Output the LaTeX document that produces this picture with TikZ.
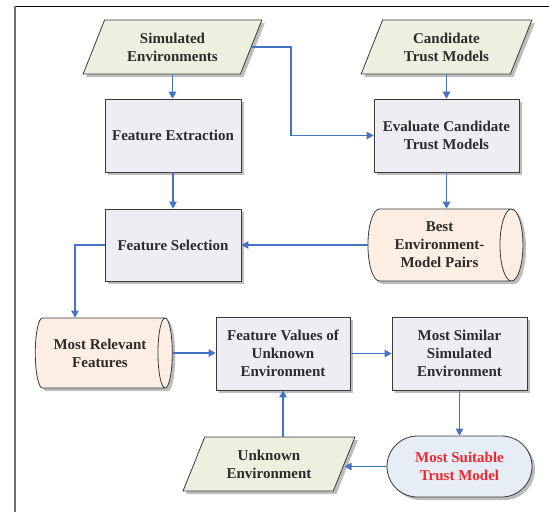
\documentclass[tikz,border=0pt]{standalone}
\usepackage{fontspec}
\setmainfont{Liberation Serif}
\usetikzlibrary{shapes.geometric,shapes.misc,shadows,arrows.meta,calc}
\definecolor{greenf}{HTML}{EBF1DE}
\definecolor{boxf}{HTML}{EEEDF4}
\definecolor{peachf}{HTML}{FCEEE3}
\definecolor{bluef}{HTML}{E6EDF7}
\definecolor{edgec}{HTML}{3A3A3A}
\definecolor{shadc}{HTML}{BDBDBD}
\definecolor{arrc}{HTML}{4472C4}
\definecolor{txtc}{HTML}{2B2B2B}
\definecolor{redt}{HTML}{F0282D}
\tikzset{
  base/.style={draw=edgec, line width=0.8pt, inner sep=0pt, align=center,
    font=\bfseries\fontsize{15}{18}\selectfont, text=txtc,
    drop shadow={shadow xshift=3pt, shadow yshift=-3pt, fill=shadc, opacity=1}},
  procbox/.style={base, rectangle, fill=boxf},
  iobox/.style={base, trapezium, trapezium left angle=63.4, trapezium right angle=116.6,
    trapezium stretches=true, fill=greenf},
  storebox/.style={base, cylinder, aspect=0.5, fill=peachf},
  termbox/.style={base, rounded rectangle, fill=bluef},
  conn/.style={draw=arrc, line width=1.2pt, -{Triangle[length=7pt,width=7.5pt]}},
}
\begin{document}
\begin{tikzpicture}[x=1pt,y=-1pt]
\useasboundingbox (0,0) rectangle (549,512);
\draw[black, line width=1pt] (15,6) -- (549,6);
\draw[gray!90!black, line width=2pt] (15,6) -- (15,512);

\node[iobox, minimum width=179pt, minimum height=54pt] (se) at (172.5,47) {Simulated\\Environments};
\node[iobox, minimum width=171pt, minimum height=54pt] (ctm) at (446.5,47) {Candidate\\Trust Models};
\node[procbox, minimum width=136pt, minimum height=73pt] (fe) at (173,135.5) {Feature Extraction};
\node[procbox, minimum width=145pt, minimum height=73pt] (ev) at (446.5,135.5) {Evaluate Candidate\\Trust Models};
\node[procbox, minimum width=136pt, minimum height=72pt] (fs) at (173,245) {Feature Selection};
\node[storebox, minimum height=155pt, minimum width=72pt] (bemp) at (439.5,245) {Best\\Environment-\\Model Pairs};
\node[storebox, minimum height=137pt, minimum width=70pt] (mrf) at (100,353) {Most Relevant\\Features};
\node[procbox, minimum width=134pt, minimum height=73pt] (fv) at (283,353.5) {Feature Values of\\Unknown\\Environment};
\node[procbox, minimum width=135pt, minimum height=73pt] (ms) at (459.5,353.5) {Most Similar\\Simulated\\Environment};
\node[termbox, minimum width=145pt, minimum height=61pt, text=redt] (mst) at (459.5,466.5) {Most Suitable\\Trust Model};
\node[iobox, minimum width=172pt, minimum height=54pt] (ue) at (269,464) {Unknown\\Environment};

\coordinate (kink) at (291,90);
\draw[conn] (se.south) -- (se.south |- fe.north);
\draw[conn] (fe.south) -- (fe.south |- fs.north);
\draw[conn] (se.east) -| (kink) |- (ev.west);
\draw[conn] (ctm.south) -- (ctm.south |- ev.north);
\draw[conn] (ev.south) -- (ev.south |- bemp.north);
\draw[conn] (bemp.west) -- (bemp.west -| fs.east);
\draw[conn] (fs.west) -| ($(mrf.north)+(-25,0)$);
\draw[conn] (mrf.east) -- (mrf.east -| fv.west);
\draw[conn] (fv.east) -- (fv.east -| ms.west);
\draw[conn] (ms.south) -- (ms.south |- mst.north);
\draw[conn] (mst.west) -- (mst.west -| ue.east);
\draw[conn] (fv.south |- ue.north) -- (fv.south);
\end{tikzpicture}
\end{document}
